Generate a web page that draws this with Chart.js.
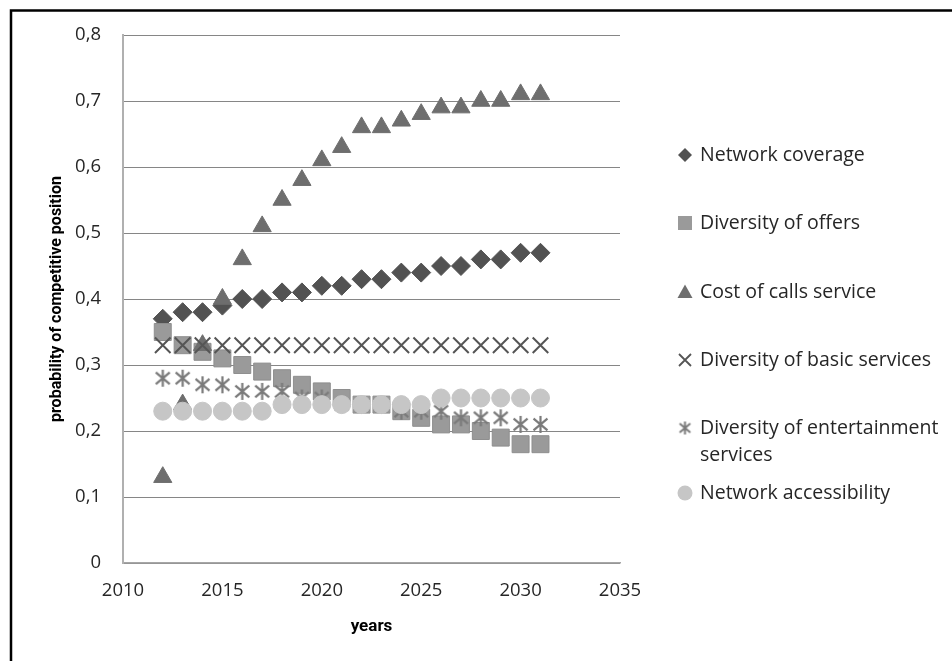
<!DOCTYPE html>
<html>
<head>
<meta charset="utf-8">
<script src="https://cdn.jsdelivr.net/npm/chart.js@4/dist/chart.umd.min.js"></script>
<style>
  html, body { margin: 0; padding: 0; background: #ffffff; }
  canvas { display: block; }
</style>
</head>
<body>
<canvas id="chart" width="952" height="661"></canvas>
<script>
// ---- data ----
const years = [2012, 2013, 2014, 2015, 2016, 2017, 2018, 2019, 2020, 2021,
               2022, 2023, 2024, 2025, 2026, 2027, 2028, 2029, 2030, 2031];

const networkCoverage      = [0.37, 0.38, 0.38, 0.39, 0.40, 0.40, 0.41, 0.41, 0.42, 0.42,
                              0.43, 0.43, 0.44, 0.44, 0.45, 0.45, 0.46, 0.46, 0.47, 0.47];
const diversityOfOffers    = [0.35, 0.33, 0.32, 0.31, 0.30, 0.29, 0.28, 0.27, 0.26, 0.25,
                              0.24, 0.24, 0.23, 0.22, 0.21, 0.21, 0.20, 0.19, 0.18, 0.18];
const costOfCalls          = [0.13, 0.24, 0.33, 0.40, 0.46, 0.51, 0.55, 0.58, 0.61, 0.63,
                              0.66, 0.66, 0.67, 0.68, 0.69, 0.69, 0.70, 0.70, 0.71, 0.71];
const basicServices        = [0.33, 0.33, 0.33, 0.33, 0.33, 0.33, 0.33, 0.33, 0.33, 0.33,
                              0.33, 0.33, 0.33, 0.33, 0.33, 0.33, 0.33, 0.33, 0.33, 0.33];
const entertainmentServices= [0.28, 0.28, 0.27, 0.27, 0.26, 0.26, 0.26, 0.25, 0.25, 0.24,
                              0.24, 0.24, 0.23, 0.23, 0.23, 0.22, 0.22, 0.22, 0.21, 0.21];
const networkAccessibility = [0.23, 0.23, 0.23, 0.23, 0.23, 0.23, 0.24, 0.24, 0.24, 0.24,
                              0.24, 0.24, 0.24, 0.24, 0.25, 0.25, 0.25, 0.25, 0.25, 0.25];

const seriesNames = ['Network coverage', 'Diversity of offers', 'Cost of calls service',
                     'Diversity of basic services', 'Diversity of entertainment services',
                     'Network accessibility'];

const xTickLabels = ['2010', '2015', '2020', '2025', '2030', '2035'];
const yTickLabels = ['0', '0,1', '0,2', '0,3', '0,4', '0,5', '0,6', '0,7', '0,8'];

const xAxisTitle = 'years';
const yAxisTitle = 'probability of competitive position';

// ---- styling ----
const FONT = "'Open Sans', 'Liberation Sans', sans-serif";
const TITLE_FONT = "Roboto, 'Liberation Sans', sans-serif";
const TEXT = '#262626';

// six-ray asterisk marker (X plus a vertical bar)
function makeStar(size, color, lw) {
  const c = document.createElement('canvas');
  c.width = size; c.height = size;
  const g = c.getContext('2d');
  const m = size / 2, r = size / 2 - 1;
  g.strokeStyle = color; g.lineWidth = lw; g.lineCap = 'butt';
  g.beginPath();
  g.moveTo(m, m - r); g.lineTo(m, m + r);
  g.moveTo(m - r * 0.82, m - r * 0.7); g.lineTo(m + r * 0.82, m + r * 0.7);
  g.moveTo(m + r * 0.82, m - r * 0.7); g.lineTo(m - r * 0.82, m + r * 0.7);
  g.stroke();
  return c;
}
const starPlot = makeStar(19, '#7a7a7a', 2.2);
const starLegend = makeStar(15, '#7a7a7a', 2);

const styles = [
  { pointStyle: 'rectRot',  radius: 9.5,  fill: '#525252', stroke: '#525252', bw: 1 },
  { pointStyle: 'rect',     radius: 12,   fill: '#9a9a9a', stroke: '#8e8e8e', bw: 1 },
  { pointStyle: 'triangle', radius: 10.5, fill: '#6e6e6e', stroke: '#6e6e6e', bw: 1 },
  { pointStyle: 'crossRot', radius: 11,   fill: '#555555', stroke: '#555555', bw: 2 },
  { pointStyle: starPlot,   radius: 9,    fill: '#7a7a7a', stroke: '#7a7a7a', bw: 1 },
  { pointStyle: 'circle',   radius: 9,    fill: '#c6c6c6', stroke: '#c6c6c6', bw: 1 }
];

const seriesValues = [networkCoverage, diversityOfOffers, costOfCalls,
                      basicServices, entertainmentServices, networkAccessibility];

const datasets = seriesValues.map((vals, i) => ({
  label: seriesNames[i],
  data: years.map((yr, k) => ({ x: yr, y: vals[k] })),
  pointStyle: styles[i].pointStyle,
  pointRadius: styles[i].radius,
  pointBackgroundColor: styles[i].fill,
  pointBorderColor: styles[i].stroke,
  pointBorderWidth: styles[i].bw,
  showLine: false,
  // later series are painted above earlier ones
  order: seriesValues.length - i
}));

// legend drawn at the right, with word-wrapped entries
function drawLegendMarker(ctx, i, x, y) {
  const s = styles[i];
  ctx.save();
  ctx.fillStyle = s.fill;
  ctx.strokeStyle = s.stroke;
  ctx.beginPath();
  switch (i) {
    case 0: // diamond
      ctx.moveTo(x, y - 7); ctx.lineTo(x + 7, y); ctx.lineTo(x, y + 7); ctx.lineTo(x - 7, y);
      ctx.closePath(); ctx.fill(); break;
    case 1: // square
      ctx.rect(x - 7, y - 7, 14, 14); ctx.fill(); break;
    case 2: // triangle
      ctx.moveTo(x, y - 7.5); ctx.lineTo(x + 7.5, y + 6); ctx.lineTo(x - 7.5, y + 6);
      ctx.closePath(); ctx.fill(); break;
    case 3: // x mark
      ctx.lineWidth = 1.8;
      ctx.moveTo(x - 6, y - 6); ctx.lineTo(x + 6, y + 6);
      ctx.moveTo(x + 6, y - 6); ctx.lineTo(x - 6, y + 6);
      ctx.stroke(); break;
    case 4: // asterisk
      ctx.drawImage(starLegend, x - 7.5, y - 7.5); break;
    case 5: // circle
      ctx.arc(x, y, 7.5, 0, Math.PI * 2); ctx.fill(); break;
  }
  ctx.restore();
}

function wrapText(ctx, text, maxWidth) {
  const words = text.split(' ');
  const lines = [];
  let line = '';
  for (const w of words) {
    const test = line ? line + ' ' + w : w;
    if (ctx.measureText(test).width > maxWidth && line) { lines.push(line); line = w; }
    else line = test;
  }
  if (line) lines.push(line);
  return lines;
}

const sideLegend = {
  id: 'sideLegend',
  afterDraw(chart) {
    const ctx = chart.ctx;
    const markerX = 685, textX = 700, maxW = 245, lineH = 27;
    const rows = [155, 223, 292, 360, 428, 493];
    ctx.save();
    ctx.font = `19.5px ${FONT}`;
    ctx.fillStyle = TEXT;
    ctx.textBaseline = 'middle';
    ctx.textAlign = 'left';
    seriesNames.forEach((name, i) => {
      const y = rows[i];
      drawLegendMarker(ctx, i, markerX, y);
      ctx.fillStyle = TEXT;
      wrapText(ctx, name, maxW).forEach((ln, j) => ctx.fillText(ln, textX, y + j * lineH));
    });
    ctx.restore();
  }
};

// black frame on the top and left edges
const frame = {
  id: 'frame',
  beforeDraw(chart) {
    const ctx = chart.ctx;
    ctx.save();
    ctx.fillStyle = '#ffffff';
    ctx.fillRect(0, 0, chart.width, chart.height);
    ctx.strokeStyle = '#000000';
    ctx.lineWidth = 2.5;
    ctx.beginPath();
    ctx.moveTo(11, chart.height + 5);
    ctx.lineTo(11, 10.5);
    ctx.lineTo(chart.width + 5, 10.5);
    ctx.stroke();
    ctx.restore();
  }
};

new Chart(document.getElementById('chart'), {
  type: 'scatter',
  data: { datasets },
  plugins: [frame, sideLegend],
  options: {
    responsive: false,
    animation: false,
    devicePixelRatio: 1,
    layout: { padding: { left: 0, top: 35, right: 332, bottom: 0 } },
    plugins: {
      legend: { display: false },
      tooltip: { enabled: false }
    },
    scales: {
      x: {
        type: 'linear',
        min: 2010, max: 2035,
        afterFit(scale) { scale.height = 98; },
        afterBuildTicks(scale) {
          scale.ticks = xTickLabels.map(t => ({ value: Number(t) }));
        },
        ticks: {
          padding: 17,
          color: TEXT,
          font: { family: FONT, size: 18.5 },
          callback: (v) => xTickLabels.find(t => Number(t) === v) ?? ''
        },
        grid: { display: false, drawTicks: false },
        border: { color: '#a6a6a6', width: 1.5 },
        title: {
          display: true, text: xAxisTitle, color: '#000000',
          font: { family: TITLE_FONT, size: 17, weight: 'bold' },
          padding: { top: 0, bottom: 24 }
        }
      },
      y: {
        min: 0, max: 0.8,
        afterFit(scale) { scale.width = 123; },
        afterBuildTicks(scale) {
          scale.ticks = yTickLabels.map((t, i) => ({ value: i / 10 }));
        },
        ticks: {
          padding: 22,
          color: TEXT,
          font: { family: FONT, size: 18.5 },
          callback: (v, i) => yTickLabels[i]
        },
        grid: { color: '#868686', lineWidth: 1, drawTicks: false },
        border: { color: '#b0b0b0', width: 2 },
        title: {
          display: true, text: yAxisTitle, color: '#000000',
          font: { family: TITLE_FONT, size: 16, weight: 'bold' },
          padding: { top: 47, bottom: 0 }
        }
      }
    }
  }
});
</script>
</body>
</html>
